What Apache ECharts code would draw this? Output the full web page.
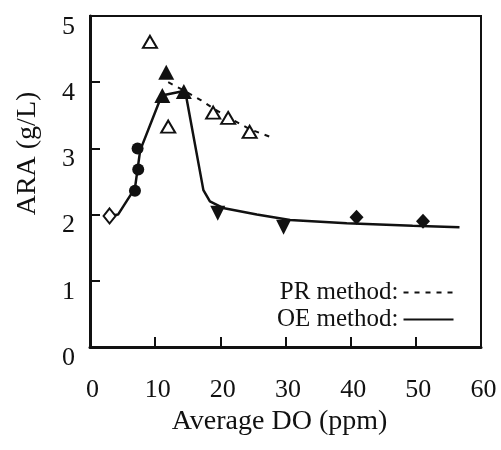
<!DOCTYPE html>
<html>
<head>
<meta charset="utf-8">
<script src="https://cdn.jsdelivr.net/npm/echarts@6/dist/echarts.min.js"></script>
<style>html,body{margin:0;padding:0;background:#fff}#c{width:501px;height:450px}</style>
</head>
<body>
<div id="c"></div>
<script>
// Data
var xTicks = [0, 10, 20, 30, 40, 50, 60];
var yTicks = [0, 1, 2, 3, 4, 5];
var openDiamond = [[3.0, 1.98]];
var filledCircles = [[7.3, 3.0], [7.4, 2.68], [6.9, 2.36]];
var openTriangles = [[9.2, 4.61], [12.0, 3.33], [18.9, 3.54], [21.2, 3.46], [24.5, 3.25]];
var filledTriangles = [[11.7, 4.15], [11.1, 3.8], [14.4, 3.86]];
var invTriangles = [[19.6, 2.02], [29.7, 1.81]];
var filledDiamonds = [[40.9, 1.96], [51.1, 1.9]];
var prLine = [[12.0, 4.0], [14.5, 3.87], [17.0, 3.73], [19.0, 3.6], [21.2, 3.47], [24.5, 3.29], [27.5, 3.18]];
var oeLine = [[3.0, 1.98], [4.3, 2.0], [6.9, 2.4], [7.7, 2.97], [11.0, 3.8], [14.6, 3.87], [17.4, 2.37], [18.4, 2.2], [20.4, 2.1], [25.6, 2.0], [30.7, 1.92], [39.4, 1.87], [49.5, 1.83], [56.7, 1.81]];

var FONT = 'Liberation Serif';
var INK = '#111';

var chart = echarts.init(document.getElementById('c'), null, {renderer: 'canvas'});
function sc(data, symbol, size, filled, rot) {
  return {
    type: 'scatter', data: data, symbol: symbol, symbolSize: size, symbolRotate: rot || 0,
    itemStyle: {color: filled ? INK : '#fff', borderColor: INK, borderWidth: filled ? 0 : 2, opacity: 1},
    z: 5, silent: true
  };
}
chart.setOption({
  animation: false,
  backgroundColor: '#fff',
  grid: {left: 90, right: 20, top: 16, bottom: 103, show: true, borderColor: INK, borderWidth: 2},
  legend: {
    orient: 'vertical', left: 272, top: 275, align: 'right', itemWidth: 50, itemHeight: 14, itemGap: 2,
    itemStyle: {opacity: 0},
    textStyle: {fontFamily: FONT, fontSize: 25, color: INK},
    data: ['PR method:', 'OE method:']
  },
  xAxis: {
    type: 'value', min: xTicks[0], max: xTicks[xTicks.length - 1], interval: 10,
    name: 'Average DO (ppm)', nameLocation: 'middle', nameGap: 55,
    nameTextStyle: {fontFamily: FONT, fontSize: 28, color: INK, padding: [0, 12, 0, 0]},
    axisLine: {lineStyle: {color: INK, width: 3}},
    axisTick: {inside: true, length: 10, lineStyle: {color: INK, width: 2}},
    axisLabel: {margin: 30, fontFamily: FONT, fontSize: 26, color: INK, padding: [0, 0, 0, 5]},
    splitLine: {show: false}
  },
  yAxis: {
    type: 'value', min: yTicks[0], max: yTicks[yTicks.length - 1], interval: 1,
    name: 'ARA (g/L)', nameLocation: 'middle', nameGap: 48, nameRotate: 90,
    nameTextStyle: {fontFamily: FONT, fontSize: 28, color: INK, padding: [0, 0, 0, 56]},
    axisLine: {lineStyle: {color: INK, width: 3}},
    axisTick: {inside: true, length: 10, lineStyle: {color: INK, width: 2}},
    axisLabel: {margin: 15, fontFamily: FONT, fontSize: 26, color: INK, verticalAlign: 'top', lineHeight: 22},
    splitLine: {show: false}
  },
  series: [
    {name: 'PR method:', type: 'line', data: prLine, symbol: 'none', smooth: false,
     lineStyle: {color: INK, width: 2, type: [5, 6]}, itemStyle: {color: INK}, z: 3},
    {name: 'OE method:', type: 'line', data: oeLine, symbol: 'none', smooth: false,
     lineStyle: {color: INK, width: 2.5}, itemStyle: {color: INK}, z: 3},
    sc(openDiamond, 'diamond', [12, 15], false),
    sc(filledCircles, 'circle', 12, true),
    sc(openTriangles, 'triangle', [14, 12], false),
    sc(filledTriangles, 'triangle', [16, 15], true),
    sc(invTriangles, 'triangle', [15, 15], true, 180),
    sc(filledDiamonds, 'diamond', [14, 15], true)
  ]
});
</script>
</body>
</html>
